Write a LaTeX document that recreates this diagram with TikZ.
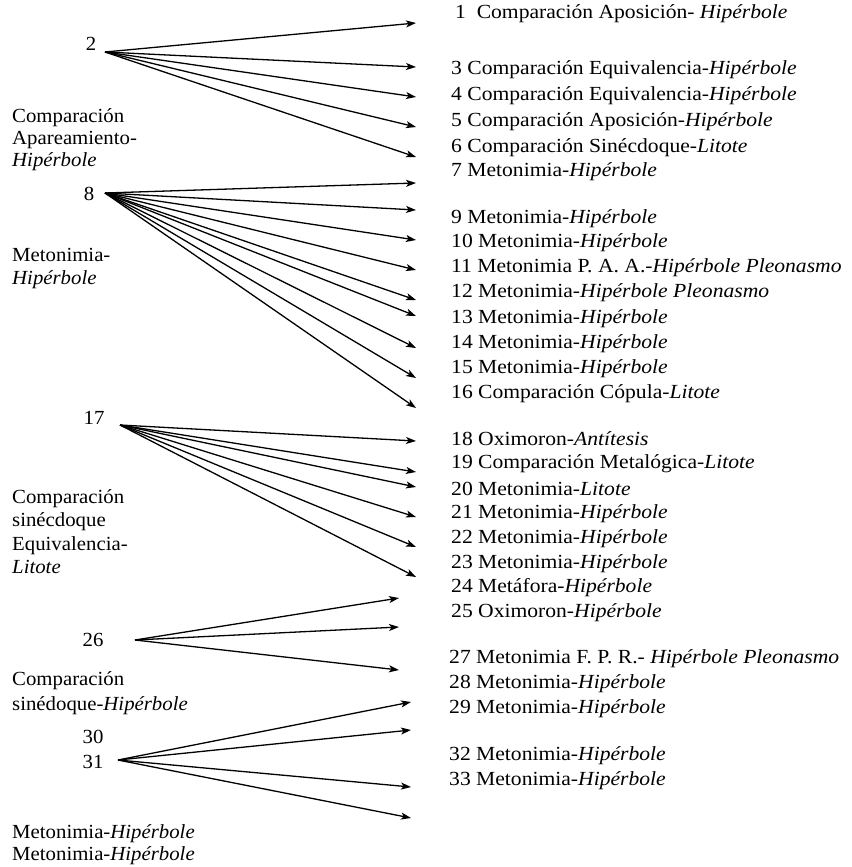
\documentclass[tikz,border=0pt]{standalone}
\usepackage{fontspec}
\setmainfont{Liberation Serif}
\newfontfamily\rfont{Liberation Serif}[FakeStretch=1.08]
\newfontfamily\lfont{Liberation Serif}[FakeStretch=1.04]
\usetikzlibrary{arrows.meta}
\begin{document}
\begin{tikzpicture}[x=1pt,y=-1pt,
  lbl/.style={anchor=west, inner sep=0pt, font=\rfont\fontsize{20}{24}\selectfont},
  num/.style={anchor=center, inner sep=0pt, font=\lfont\fontsize{20}{24}\selectfont},
  grp/.style={anchor=north west, inner sep=0pt, align=left, font=\lfont\fontsize{20}{#1}\selectfont},
  arr/.style={line width=1.3pt, -{Stealth[length=10pt,width=7pt,inset=2.5pt]}}]
\useasboundingbox (0,0) rectangle (851,867);
% right column
\node[lbl] (t1)  at (455,14)  {1\ \ Comparación Aposición- \textit{Hipérbole}};
\node[lbl] (t3)  at (451,70)  {3 Comparación Equivalencia-\textit{Hipérbole}};
\node[lbl] (t4)  at (451,96)  {4 Comparación Equivalencia-\textit{Hipérbole}};
\node[lbl] (t5)  at (451,122) {5 Comparación Aposición-\textit{Hipérbole}};
\node[lbl] (t6)  at (451,148) {6 Comparación Sinécdoque-\textit{Litote}};
\node[lbl] (t7)  at (451,172) {7 Metonimia-\textit{Hipérbole}};
\node[lbl] (t9)  at (451,219) {9 Metonimia-\textit{Hipérbole}};
\node[lbl] (t10) at (451,243) {10 Metonimia-\textit{Hipérbole}};
\node[lbl] (t11) at (451,268) {11 Metonimia P. A. A.-\textit{Hipérbole Pleonasmo}};
\node[lbl] (t12) at (451,293) {12 Metonimia-\textit{Hipérbole Pleonasmo}};
\node[lbl] (t13) at (451,319) {13 Metonimia-\textit{Hipérbole}};
\node[lbl] (t14) at (451,344) {14 Metonimia-\textit{Hipérbole}};
\node[lbl] (t15) at (451,369) {15 Metonimia-\textit{Hipérbole}};
\node[lbl] (t16) at (451,394) {16 Comparación Cópula-\textit{Litote}};
\node[lbl] (t18) at (451,439) {18 Oximoron-\textit{Antítesis}};
\node[lbl] (t19) at (451,464) {19 Comparación Metalógica-\textit{Litote}};
\node[lbl] (t20) at (451,489) {20 Metonimia-\textit{Litote}};
\node[lbl] (t21) at (451,514) {21 Metonimia-\textit{Hipérbole}};
\node[lbl] (t22) at (451,539) {22 Metonimia-\textit{Hipérbole}};
\node[lbl] (t23) at (451,564) {23 Metonimia-\textit{Hipérbole}};
\node[lbl] (t24) at (451,588) {24 Metáfora-\textit{Hipérbole}};
\node[lbl] (t25) at (451,613) {25 Oximoron-\textit{Hipérbole}};
\node[lbl] (t27) at (449,659) {27 Metonimia F. P. R.- \textit{Hipérbole Pleonasmo}};
\node[lbl] (t28) at (449,684) {28 Metonimia-\textit{Hipérbole}};
\node[lbl] (t29) at (449,709) {29 Metonimia-\textit{Hipérbole}};
\node[lbl] (t32) at (449,756) {32 Metonimia-\textit{Hipérbole}};
\node[lbl] (t33) at (449,781) {33 Metonimia-\textit{Hipérbole}};
% numbers
\node[num] (n2)  at (91,44)  {2};
\node[num] (n8)  at (89,194) {8};
\node[num] (n17) at (94,418) {17};
\node[num] (n26) at (93,640) {26};
\node[num] (n30) at (93,737) {30};
\node[num] (n31) at (93,762) {31};
% group labels
\node[grp=22] (g1) at (12,108) {Comparación\\Apareamiento-\\\textit{Hipérbole}};
\node[grp=23] (g2) at (12,248) {Metonimia-\\\textit{Hipérbole}};
\node[grp=23.5] (g3) at (12,489) {Comparación\\sinécdoque\\Equivalencia-\\\textit{Litote}};
\node[grp=25] (g4) at (12,671) {Comparación\\sinédoque-\textit{Hipérbole}};
\node[grp=22] (g5) at (12,824) {Metonimia-\textit{Hipérbole}\\Metonimia-\textit{Hipérbole}};
% sources
\coordinate (s2)  at (105,52);
\coordinate (s8)  at (105,193);
\coordinate (s17) at (120,425);
\coordinate (s26) at (135,640);
\coordinate (s30) at (118,760);
% arrows
\foreach \y [count=\i] in {23,67,97,127,157} {\coordinate (a\i) at (416,\y); \draw[arr] (s2) -- (a\i);}
\foreach \y [count=\i] in {183,210,240,270,300,316,348,378,408} {\coordinate (b\i) at (416,\y); \draw[arr] (s8) -- (b\i);}
\foreach \y [count=\i] in {441,472,487,517,547,577} {\coordinate (c\i) at (416,\y); \draw[arr] (s17) -- (c\i);}
\foreach \y [count=\i] in {598,627,670} {\coordinate (d\i) at (399,\y); \draw[arr] (s26) -- (d\i);}
\foreach \y [count=\i] in {702,730,787,818} {\coordinate (e\i) at (411,\y); \draw[arr] (s30) -- (e\i);}
\end{tikzpicture}
\end{document}
